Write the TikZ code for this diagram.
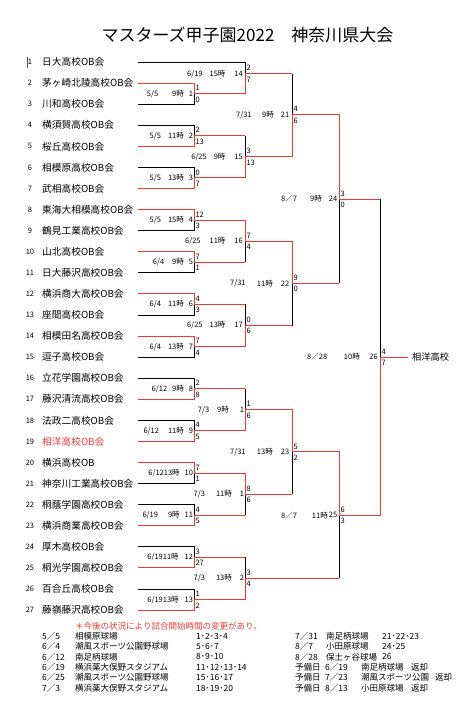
\documentclass[tikz,border=0pt]{standalone}
\usepackage{fontspec}
\newfontfamily\jp{Noto Sans CJK JP}
\definecolor{rd}{RGB}{232,58,58}
\begin{document}
\begin{tikzpicture}[x=1pt,y=-1pt,
  every node/.style={inner sep=0pt},
  tname/.style={anchor=west, font=\jp\fontsize{9.7}{10}\selectfont},
  tnum/.style={anchor=center, font=\jp\fontsize{7.5}{8}\selectfont},
  lab/.style={anchor=east, font=\jp\fontsize{7.5}{8}\selectfont},
  labw/.style={anchor=west, font=\jp\fontsize{7.5}{8}\selectfont},
  sc/.style={anchor=west, font=\jp\fontsize{7.5}{8}\selectfont},
  leg/.style={anchor=west, font=\jp\fontsize{8.5}{9}\selectfont},
  lose/.style={draw=black, line width=0.8pt},
  win/.style={draw=rd, line width=1pt}]
\useasboundingbox (0,0) rectangle (474,710);

% title
\node[font=\jp\fontsize{17}{18}\selectfont] (title) at (247.5,35) {マスターズ甲子園2022　神奈川県大会};

% cursor mark
\coordinate (cu1) at (27,56.5);
\coordinate (cu2) at (27,67.5);
\draw[line width=0.6pt, black!70] (cu1) -- (cu2);

% teams
\foreach \i/\t/\c in {1/日大高校OB会/black, 2/茅ヶ崎北陵高校OB会/black, 3/川和高校OB会/black,
  4/横須賀高校OB会/black, 5/桜丘高校OB会/black, 6/相模原高校OB会/black, 7/武相高校OB会/black,
  8/東海大相模高校OB会/black, 9/鶴見工業高校OB会/black, 10/山北高校OB会/black,
  11/日大藤沢高校OB会/black, 12/横浜商大高校OB会/black, 13/座間高校OB会/black,
  14/相模田名高校OB会/black, 15/逗子高校OB会/black, 16/立花学園高校OB会/black,
  17/藤沢清流高校OB会/black, 18/法政二高校OB会/black, 19/相洋高校OB会/rd,
  20/横浜高校OB/black, 21/神奈川工業高校OB会/black, 22/桐蔭学園高校OB会/black,
  23/横浜商業高校OB会/black, 24/厚木高校OB会/black, 25/桐光学園高校OB会/black,
  26/百合丘高校OB会/black, 27/藤嶺藤沢高校OB会/black} {
  \node[tnum] (n\i) at (30,{62+21.08*(\i-1)}) {\i};
  \node[tname, text=\c] (tn\i) at (42,{62+21.08*(\i-1)}) {\t};
  \coordinate (t\i) at (138,{62+21.08*(\i-1)});
}

% match points
\foreach \m/\x/\k in {1/194/3, 2/194/7, 3/194/11, 4/194/15, 5/194/19, 6/194/23, 7/194/27,
  8/194/31, 9/194/35, 10/194/39, 11/194/43, 12/194/47, 13/194/51,
  14/245/1.1, 15/245/9, 16/245/17, 17/245/25, 18/245/33, 19/245/41, 20/245/49,
  21/292/5, 22/292/21, 23/292/37, 24/339/13, 25/339/43, 26/380/28}
  \coordinate (m\m) at (\x,{62+10.54*\k});
\coordinate (champ) at (408,{62+10.54*28});

% losing teams (black)
\foreach \a/\b in {t3/m1, t4/m2, t6/m3, t9/m4, t11/m5, t13/m6, t15/m7, t16/m8, t18/m9,
  t21/m10, t22/m11, t24/m12, t26/m13, t1/m14}
  \draw[lose] (\a) -| (\b);
% losing match outputs: red horizontal, black vertical
\foreach \a/\b in {m2/m15, m5/m16, m6/m17, m8/m18, m11/m19, m12/m20, m14/m21, m17/m22,
  m19/m23, m22/m24, m20/m25, m24/m26} {
  \draw[lose] (\a -| \b) -- (\b);
  \draw[win] (\a) -- (\a -| \b);
}
% winners (red)
\foreach \a/\b in {t2/m1, t5/m2, t7/m3, t8/m4, t10/m5, t12/m6, t14/m7, t17/m8, t19/m9,
  t20/m10, t23/m11, t25/m12, t27/m13, m1/m14, m3/m15, m4/m16, m7/m17, m9/m18, m10/m19,
  m13/m20, m15/m21, m16/m22, m18/m23, m21/m24, m23/m25, m25/m26}
  \draw[win] (\a) -| (\b);
\draw[win] (m26) -- (champ);
\node[anchor=west, font=\jp\fontsize{9.2}{10}\selectfont] (winner) at ([xshift=4pt]champ) {相洋高校};

% scores
\foreach \m/\p/\q in {1/1/0, 2/2/13, 3/0/7, 4/12/3, 5/7/1, 6/4/3, 7/7/4, 8/2/8, 9/4/5,
  10/7/1, 11/4/5, 12/3/27, 13/1/2, 14/2/7, 15/3/13, 16/7/4, 17/0/6, 18/1/6, 19/8/6,
  20/3/4, 21/4/6, 22/9/0, 23/5/2, 24/3/0, 25/6/3, 26/4/7} {
  \node[sc] (sa\m) at ([xshift=1.3pt,yshift=5.6pt]m\m) {\p};
  \node[sc] (sb\m) at ([xshift=1.3pt,yshift=-5.8pt]m\m) {\q};
}

% match labels, round 1
\node[lab] (l1) at ([xshift=-0.8pt]m1) {5/5\hspace{14pt}9時\hspace{5pt}1};
\node[lab] (l2) at ([xshift=-0.8pt]m2) {5/5\hspace{7pt}11時\hspace{5pt}2};
\node[lab] (l3) at ([xshift=-0.8pt]m3) {5/5\hspace{7pt}13時\hspace{5pt}3};
\node[lab] (l4) at ([xshift=-0.8pt]m4) {5/5\hspace{7pt}15時\hspace{5pt}4};
\node[lab] (l5) at ([xshift=-0.8pt]m5) {6/4\hspace{8pt}9時\hspace{5pt}5};
\node[lab] (l6) at ([xshift=-0.8pt]m6) {6/4\hspace{7pt}11時\hspace{5pt}6};
\node[lab] (l7) at ([xshift=-0.8pt]m7) {6/4\hspace{7pt}13時\hspace{5pt}7};
\node[lab] (l8) at ([xshift=-0.8pt]m8) {6/12\hspace{5pt}9時\hspace{5pt}8};
\node[lab] (l9) at ([xshift=-0.8pt]m9) {6/12\hspace{9pt}11時\hspace{5pt}9};
\node[lab] (l10) at ([xshift=-0.8pt]m10) {6/1213時\hspace{5pt}10};
\node[lab] (l11) at ([xshift=-0.8pt]m11) {6/19\hspace{10pt}9時\hspace{5pt}11};
\node[lab] (l12) at ([xshift=-0.8pt]m12) {6/1911時\hspace{6pt}12};
\node[lab] (l13) at ([xshift=-0.8pt]m13) {6/1913時\hspace{6pt}13};
% round 2
\node[lab] (l14) at ([xshift=-2pt]m14) {6/19\hspace{7pt}15時\hspace{9pt}14};
\node[lab] (l15) at ([xshift=-2pt]m15) {6/25\hspace{7pt}9時\hspace{9pt}15};
\node[lab] (l16) at ([xshift=-2pt]m16) {6/25\hspace{9pt}11時\hspace{9pt}16};
\node[lab] (l17) at ([xshift=-2pt]m17) {6/25\hspace{7pt}13時\hspace{9pt}17};
% round 2, 7/3 matches: number cut by the bracket line, as printed
\node[lab] (l18) at ([xshift=-0.8pt]m18) {7/3\hspace{8pt}9時\hspace{11pt}1};
\node[lab] (l19) at ([xshift=-0.8pt]m19) {7/3\hspace{11pt}11時\hspace{8pt}1};
\node[lab] (l20) at ([xshift=-0.8pt]m20) {7/3\hspace{11pt}13時\hspace{8pt}2};
% round 3: date / time / number placed separately
\foreach \m/\dx/\d/\tx/\t in {21/236/{7/31}/274/9時, 22/230/{7/31}/273/11時, 23/230/{7/31}/273/13時} {
  \node[labw] (ld\m) at (\dx,0 |- m\m) {\d};
  \node[lab] (lt\m) at (\tx,0 |- m\m) {\t};
  \node[lab] (l\m) at ([xshift=-2.5pt]m\m) {\m};
}
% round 4 and final
\foreach \m/\dx/\d/\tx/\t/\nx in {24/281/8／7/322/9時/1.5, 25/281/8／7/328/11時/1.5, 26/307/8／28/360/10時/2} {
  \node[labw] (ld\m) at (\dx,0 |- m\m) {\d};
  \node[lab] (lt\m) at (\tx,0 |- m\m) {\t};
  \node[lab] (l\m) at ([xshift=-\nx pt]m\m) {\m};
}

% legend
\node[leg, text=rd] (note) at (75,626) {＊今後の状況により試合開始時間の変更があり。};
\foreach \j/\d/\v/\s in {0/5／5/相模原球場/1･2･3･4, 1/6／4/潮風スポーツ公園野球場/5･6･7,
  2/6／12/南足柄球場/8･9･10, 3/6／19/横浜薬大俣野スタジアム/11･12･13･14,
  4/6／25/潮風スポーツ公園野球場/15･16･17, 5/7／3/横浜薬大俣野スタジアム/18･19･20} {
  \node[leg] (ld\j) at (42,{636+10.4*\j}) {\d};
  \node[leg] (lv\j) at (75,{636+10.4*\j}) {\v};
  \node[leg] (ls\j) at (196,{636+10.4*\j}) {\s};
}
\foreach \j/\d/\v/\s in {0/7／31/南足柄球場/21･22･23, 1/8／7/小田原球場/24･25, 2/8／28/保土ヶ谷球場/26} {
  \node[leg] (rd\j) at (295,{636+10.4*\j}) {\d};
  \node[leg] (rv\j) at (326,{636+10.4*\j}) {\v};
  \node[leg] (rs\j) at (382,{636+10.4*\j}) {\s};
}
\foreach \j/\d/\v/\r in {3/6／19/南足柄球場/411, 4/7／23/潮風スポーツ公園/435, 5/8／13/小田原球場/411} {
  \node[leg] (ry\j) at (295,{636+10.4*\j}) {予備日};
  \node[leg] (rd\j) at (325,{636+10.4*\j}) {\d};
  \node[leg] (rv\j) at (361,{636+10.4*\j}) {\v};
  \node[leg] (rr\j) at (\r,{636+10.4*\j}) {返却};
}
\end{tikzpicture}
\end{document}
